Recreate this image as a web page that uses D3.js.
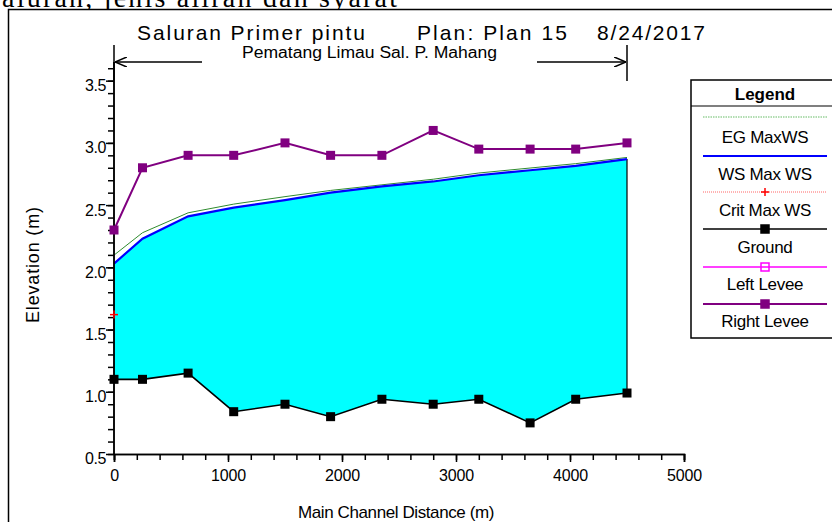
<!DOCTYPE html>
<html>
<head>
<meta charset="utf-8">
<script src="https://cdn.jsdelivr.net/npm/d3@7"></script>
<style>
  html, body { margin: 0; padding: 0; background: #fff; }
  svg { display: block; }
  text { font-family: Arial, "Liberation Sans", sans-serif; fill: #000; }
</style>
</head>
<body>
<div id="chart"></div>
<script>
// Profile data (distance in m, elevation in m)
const stations   = [0, 250, 650, 1050, 1500, 1900, 2350, 2800, 3200, 3650, 4050, 4500];
const ground     = [1.10, 1.10, 1.15, 0.84, 0.90, 0.80, 0.94, 0.90, 0.94, 0.75, 0.94, 0.99];
const wsMax      = [2.03, 2.23, 2.41, 2.48, 2.54, 2.60, 2.65, 2.69, 2.74, 2.78, 2.815, 2.87];
const egMax      = [2.09, 2.27, 2.43, 2.50, 2.56, 2.61, 2.655, 2.70, 2.75, 2.79, 2.825, 2.875];
const rightLevee = [2.30, 2.80, 2.90, 2.90, 3.00, 2.90, 2.90, 3.10, 2.95, 2.95, 2.95, 3.00];
const critStations = [0];
const critMax      = [1.62];

const xTicks = [0, 1000, 2000, 3000, 4000, 5000];
const yTicks = [0.5, 1.0, 1.5, 2.0, 2.5, 3.0, 3.5];

const legendItems = ['EG  MaxWS', 'WS  Max WS', 'Crit  Max WS', 'Ground', 'Left Levee', 'Right Levee'];

const W = 832, H = 522;
const svg = d3.select('#chart').append('svg').attr('width', W).attr('height', H);

// surrounding document text, cut off at the top
svg.append('text')
  .attr('x', -11).attr('y', 6.5)
  .attr('textLength', 408).attr('lengthAdjust', 'spacing')
  .style('font-family', '"Liberation Serif", "Times New Roman", serif')
  .style('font-size', '28px')
  .text('saluran, jenis aliran dan syarat');

// chart frame
svg.append('rect')
  .attr('x', 8.5).attr('y', 9.5).attr('width', 900).attr('height', 600)
  .attr('fill', '#fff').attr('stroke', '#000').attr('stroke-width', 1.5);

const x = d3.scaleLinear().domain([0, 5000]).range([114, 684]);
const y = d3.scaleLinear().domain([0.5, 3.65]).range([454, 62]);

// title
const title = svg.append('g').style('font-size', '21px');
title.append('text').attr('x', 137).attr('y', 40).attr('textLength', 228).attr('lengthAdjust', 'spacing').text('Saluran Primer pintu');
title.append('text').attr('x', 417).attr('y', 40).attr('textLength', 150).attr('lengthAdjust', 'spacing').text('Plan: Plan 15');
title.append('text').attr('x', 597).attr('y', 40).attr('textLength', 108).attr('lengthAdjust', 'spacing').text('8/24/2017');

// reach marker with arrows
svg.append('defs').append('marker')
  .attr('id', 'arr').attr('viewBox', '0 0 12 10').attr('refX', 12).attr('refY', 5)
  .attr('markerWidth', 12).attr('markerHeight', 10).attr('markerUnits', 'userSpaceOnUse')
  .attr('orient', 'auto')
  .append('path').attr('d', 'M0,0 L12,5 L0,10').attr('fill', 'none').attr('stroke', '#000').attr('stroke-width', 1.6);

const reach = svg.append('g').attr('stroke', '#000').attr('stroke-width', 1.5);
reach.append('line').attr('x1', x(0)).attr('x2', x(0)).attr('y1', 45).attr('y2', 80);
reach.append('line').attr('x1', x(4500)).attr('x2', x(4500)).attr('y1', 45).attr('y2', 81);
reach.append('line').attr('x1', 202).attr('x2', x(0) + 1).attr('y1', 62).attr('y2', 62).attr('marker-end', 'url(#arr)');
reach.append('line').attr('x1', 537).attr('x2', x(4500) - 1).attr('y1', 62).attr('y2', 62).attr('marker-end', 'url(#arr)');
svg.append('text').attr('x', 242).attr('y', 58).attr('textLength', 255).attr('lengthAdjust', 'spacingAndGlyphs')
  .style('font-size', '16px').text('Pematang Limau Sal. P. Mahang');

// water fill between ground and water surface
const rows = stations.map((s, i) => ({ s, g: ground[i], ws: wsMax[i], eg: egMax[i], rl: rightLevee[i] }));
svg.append('path').datum(rows)
  .attr('fill', '#00ffff')
  .attr('d', d3.area().x(d => x(d.s)).y0(d => y(d.g)).y1(d => y(d.ws)));
const last = rows[rows.length - 1];
svg.append('line')
  .attr('x1', x(last.s)).attr('x2', x(last.s)).attr('y1', y(last.ws)).attr('y2', y(last.g))
  .attr('stroke', '#000').attr('stroke-width', 1.2);

// EG line
svg.append('path').datum(rows)
  .attr('fill', 'none').attr('stroke', '#2e8b2e').attr('stroke-width', 1)
  .attr('d', d3.line().x(d => x(d.s)).y(d => y(d.eg) - 1));
// WS line
svg.append('path').datum(rows)
  .attr('fill', 'none').attr('stroke', '#0000ff').attr('stroke-width', 2.2)
  .attr('d', d3.line().x(d => x(d.s)).y(d => y(d.ws)));

// ground
svg.append('path').datum(rows)
  .attr('fill', 'none').attr('stroke', '#000').attr('stroke-width', 1.6)
  .attr('d', d3.line().x(d => x(d.s)).y(d => y(d.g)));

// right levee
svg.append('path').datum(rows)
  .attr('fill', 'none').attr('stroke', '#800080').attr('stroke-width', 2)
  .attr('d', d3.line().x(d => x(d.s)).y(d => y(d.rl)));

// axes
const yAxis = svg.append('g').attr('transform', `translate(${x(0)},0)`)
  .call(d3.axisLeft(y).tickValues(d3.range(5, 37).map(v => v / 10)).tickSize(6).tickFormat(''));
const yMajor = svg.append('g').attr('transform', `translate(${x(0)},0)`)
  .call(d3.axisLeft(y).tickValues(yTicks).tickSize(8).tickPadding(0).tickFormat(d3.format('.1f')));
const xAxis = svg.append('g').attr('transform', `translate(0,${y(0.5)})`)
  .call(d3.axisBottom(x).tickValues(d3.range(0, 5001, 200)).tickSize(6).tickFormat(''));
const xMajor = svg.append('g').attr('transform', `translate(0,${y(0.5)})`)
  .call(d3.axisBottom(x).tickValues(xTicks).tickSize(8).tickPadding(8).tickFormat(d3.format('d')));
[yAxis, yMajor, xAxis, xMajor].forEach(a => {
  a.select('.domain').attr('stroke', '#000').attr('stroke-width', 1.5);
  a.selectAll('.tick line').attr('stroke', '#000').attr('stroke-width', 1.5);
  a.selectAll('.tick text').style('font-size', '16px').style('font-family', 'Arial, "Liberation Sans", sans-serif').attr('fill', '#000');
});
yAxis.select('.domain').attr('d', `M0,${y(3.65)}V${y(0.5)}`);
yMajor.select('.domain').attr('d', `M0,${y(3.65)}V${y(0.5)}`);
yMajor.selectAll('.tick text').attr('x', -8).attr('dy', '0.62em').attr('letter-spacing', '-0.4');
xMajor.selectAll('.tick text').attr('letter-spacing', '-0.2');

// markers on top of the axes
svg.append('g').selectAll('rect').data(rows).join('rect')
  .attr('x', d => x(d.s) - 4.5).attr('y', d => y(d.g) - 4.5)
  .attr('width', 9).attr('height', 9).attr('fill', '#000');
svg.append('g').selectAll('rect').data(rows).join('rect')
  .attr('x', d => x(d.s) - 4.5).attr('y', d => y(d.rl) - 4.5)
  .attr('width', 9).attr('height', 9).attr('fill', '#800080');

// critical WS
const critG = svg.append('g').attr('stroke', '#ff0000').attr('stroke-width', 1.5);
critStations.forEach((s, i) => {
  critG.append('line').attr('x1', x(s) - 4).attr('x2', x(s) + 4).attr('y1', y(critMax[i])).attr('y2', y(critMax[i]));
  critG.append('line').attr('x1', x(s)).attr('x2', x(s)).attr('y1', y(critMax[i]) - 4).attr('y2', y(critMax[i]) + 4);
});

svg.append('text')
  .attr('transform', 'translate(39,265) rotate(-90)')
  .attr('text-anchor', 'middle').attr('textLength', 116).attr('lengthAdjust', 'spacing')
  .style('font-size', '18px').text('Elevation (m)');
svg.append('text')
  .attr('x', 396).attr('y', 518).attr('text-anchor', 'middle')
  .style('font-size', '17px').attr('letter-spacing', '-0.4').text('Main Channel Distance (m)');

// legend
const lg = svg.append('g');
lg.append('rect').attr('x', 691).attr('y', 80).attr('width', 160).attr('height', 258)
  .attr('fill', '#fff').attr('stroke', '#000').attr('stroke-width', 1.5);
lg.append('line').attr('x1', 691).attr('x2', 832).attr('y1', 106).attr('y2', 106).attr('stroke', '#000').attr('stroke-width', 1.2);
lg.append('text').attr('x', 765).attr('y', 100).attr('text-anchor', 'middle')
  .style('font-size', '17px').style('font-weight', 'bold').text('Legend');

const lineY = [117, 156, 192, 229, 267, 304];
const textY = [143, 180, 216, 253, 290, 327];
const styles = [
  { stroke: '#66bb66', w: 1.2, dash: '1.5,1' },
  { stroke: '#0000ff', w: 2 },
  { stroke: '#ff6666', w: 1, dash: '1,1', mark: 'plus' },
  { stroke: '#000', w: 1.6, mark: 'square', fill: '#000' },
  { stroke: '#ff00ff', w: 1.6, mark: 'square', fill: 'none' },
  { stroke: '#800080', w: 2, mark: 'square', fill: '#800080' }
];
legendItems.forEach((name, i) => {
  const st = styles[i];
  lg.append('line').attr('x1', 703).attr('x2', 827).attr('y1', lineY[i]).attr('y2', lineY[i])
    .attr('stroke', st.stroke).attr('stroke-width', st.w).attr('stroke-dasharray', st.dash || null);
  if (st.mark === 'square') {
    lg.append('rect').attr('x', 765 - 4).attr('y', lineY[i] - 4).attr('width', 8).attr('height', 8)
      .attr('fill', st.fill).attr('stroke', st.stroke).attr('stroke-width', 1.5);
  } else if (st.mark === 'plus') {
    lg.append('path').attr('d', `M761,${lineY[i]}h8M765,${lineY[i] - 4}v8`).attr('stroke', '#ff0000').attr('stroke-width', 1.5);
  }
  lg.append('text').attr('x', 765).attr('y', textY[i]).attr('text-anchor', 'middle')
    .style('font-size', '17px').attr('letter-spacing', '-0.3').text(name);
});
</script>
</body>
</html>
